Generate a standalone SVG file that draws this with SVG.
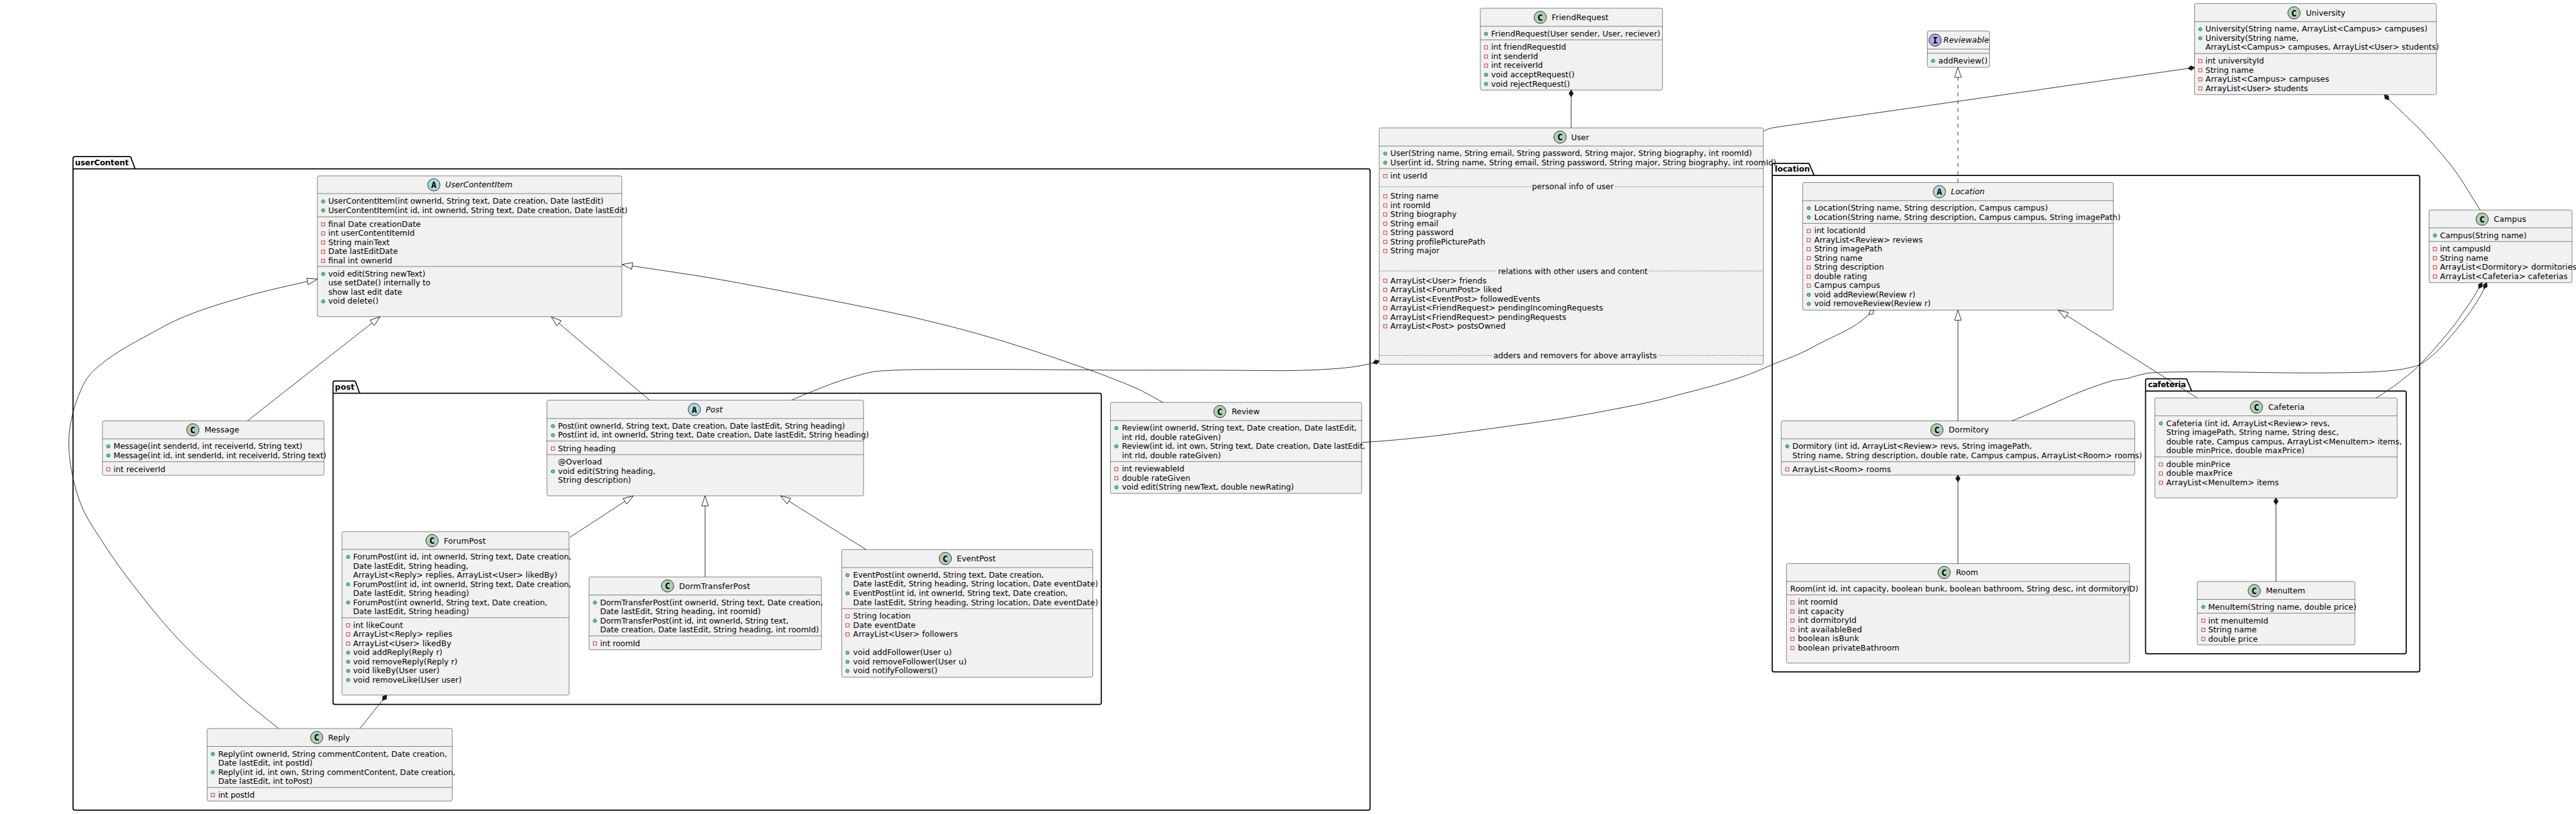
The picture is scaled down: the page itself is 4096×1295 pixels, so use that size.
<svg xmlns="http://www.w3.org/2000/svg" width="4096" height="1295" viewBox="0 0 4096 1295">
<style>
text{font-family:"DejaVu Sans",sans-serif;font-size:14px;fill:#000}
.it{font-style:italic}
.pk{font-weight:bold}
.sp{font-family:"DejaVu Sans Mono",monospace;font-weight:bold;font-size:16px;text-anchor:middle}
.b{fill:#F1F1F1;stroke:#181818;stroke-width:.6}
.l{stroke:#181818;stroke-width:.6;fill:none}
.d{stroke:#181818;stroke-width:1;stroke-dasharray:1 2;fill:none}
.pkg{fill:none;stroke:#000;stroke-width:2}
.cc{fill:#ADD1B2}.ca{fill:#A9DCDF}.ci{fill:#B4A7E5}
.cc,.ca,.ci{stroke:#181818;stroke-width:1}
#connectors path{fill:none;stroke:#181818;stroke-width:1}
.tri{marker-end:url(#tri)}
.dia{marker-start:url(#dia)}
.odia{marker-start:url(#odia)}
</style>
<defs>
<circle id="pu" r="3" fill="#84BE84" stroke="#038048"/>
<rect id="pr" x="-3" y="-3" width="6" height="6" fill="none" stroke="#C82930"/>
<marker id="tri" markerUnits="userSpaceOnUse" viewBox="-19 -7 20 14" refX="0" refY="0" markerWidth="20" markerHeight="14" orient="auto"><path d="M0,0L-18,-6L-18,6Z" fill="#fff" stroke="#181818"/></marker>
<marker id="dia" markerUnits="userSpaceOnUse" viewBox="-1 -6 15 12" refX="0" refY="0" markerWidth="15" markerHeight="12" orient="auto"><path d="M0,0L6,-4L12,0L6,4Z" fill="#181818" stroke="#181818"/></marker>
<marker id="odia" markerUnits="userSpaceOnUse" viewBox="-1 -6 15 12" refX="0" refY="0" markerWidth="15" markerHeight="12" orient="auto"><path d="M0,0L6,-4L12,0L6,4Z" fill="#fff" stroke="#181818"/></marker>
</defs>
<rect width="4096" height="1295" fill="#fff"/>
<g transform="scale(.89005)">
<g id="pkg-userContent"><path class="pkg" d="M130.5,283A3,3 0 0 1 133.5,280L231.3,280A3,3 0 0 1 234.3,283L241.4,301.8L2444.6,301.8A3,3 0 0 1 2447.6,304.8L2447.6,1445A3,3 0 0 1 2444.6,1448L133.5,1448A3,3 0 0 1 130.5,1445ZM130.5,301.8L241.4,301.8"/><text class="pk" x="134" y="295.5" textLength="96">userContent</text></g>
<g id="pkg-post"><path class="pkg" d="M595,684A3,3 0 0 1 598,681L632.6,681A3,3 0 0 1 635.6,684L642.6,703L1964.5,703A3,3 0 0 1 1967.5,706L1967.5,1256A3,3 0 0 1 1964.5,1259L598,1259A3,3 0 0 1 595,1256ZM595,703L642.6,703"/><text class="pk" x="598.4" y="696.5" textLength="35">post</text></g>
<g id="pkg-location"><path class="pkg" d="M3166,295A3,3 0 0 1 3169,292L3230,292A3,3 0 0 1 3233,295L3241,313.7L4319.8,313.7A3,3 0 0 1 4322.8,316.7L4322.8,1198A3,3 0 0 1 4319.8,1201L3169,1201A3,3 0 0 1 3166,1198ZM3166,313.7L3241,313.7"/><text class="pk" x="3170.5" y="306.7" textLength="63">location</text></g>
<g id="pkg-cafeteria"><path class="pkg" d="M3833,680A3,3 0 0 1 3836,677L3904.4,677A3,3 0 0 1 3907.4,680L3915.6,699L4295.7,699A3,3 0 0 1 4298.7,702L4298.7,1165.7A3,3 0 0 1 4295.7,1168.7L3836,1168.7A3,3 0 0 1 3833,1165.7ZM3833,699L3915.6,699"/><text class="pk" x="3837.3" y="691.7" textLength="68">cafeteria</text></g>

<g id="UserContentItem"><rect class="b" x="567" y="314.4" width="544" height="251.6" rx="3"/><path class="l" d="M567,346H1111M567,387.5H1111M567,476.3H1111"/><circle class="ca" cx="775" cy="330.4" r="11"/><text class="sp" x="775" y="336">A</text><text class="it" x="795.6" y="335" textLength="120">UserContentItem</text>
<use href="#pu" x="577.4" y="360"/><text x="586.5" y="364.2" textLength="491.7">UserContentItem(int ownerId, String text, Date creation, Date lastEdit)</text>
<use href="#pu" x="577.4" y="376"/><text x="586.5" y="380.5" textLength="534.6">UserContentItem(int id, int ownerId, String text, Date creation, Date lastEdit)</text>
<use href="#pr" x="577.4" y="401"/><text x="586.5" y="405.5" textLength="165">final Date creationDate</text>
<use href="#pr" x="577.4" y="417.3"/><text x="586.5" y="421.8" textLength="154.3">int userContentItemId</text>
<use href="#pr" x="577.4" y="433.6"/><text x="586.5" y="438.1" textLength="109.5">String mainText</text>
<use href="#pr" x="577.4" y="449.9"/><text x="586.5" y="454.4" textLength="124.2">Date lastEditDate</text>
<use href="#pr" x="577.4" y="466.2"/><text x="586.5" y="470.7" textLength="114.3">final int ownerId</text>
<use href="#pu" x="577.4" y="489.8"/><text x="586.5" y="494.3" textLength="173.3">void edit(String newText)</text>
<text x="586.5" y="510.6" textLength="182.4">use setDate() internally to</text>
<text x="586.5" y="526.9" textLength="131.9">show last edit date</text>
<use href="#pu" x="577.4" y="538.7"/><text x="586.5" y="543.2" textLength="89.8">void delete()</text></g>

<g id="Message"><rect class="b" x="183" y="752.3" width="395.8" height="97.2" rx="3"/><path class="l" d="M183,784.4H578.8M183,825.3H578.8"/><circle class="cc" cx="344.5" cy="768.3" r="11"/><text class="sp" x="344.5" y="774">C</text><text x="365.5" y="773.3" textLength="61.8">Message</text>
<use href="#pu" x="193.6" y="797.9"/><text x="202.8" y="802.4" textLength="337.4">Message(int senderId, int receiverId, String text)</text>
<use href="#pu" x="193.6" y="814.2"/><text x="202.8" y="818.7" textLength="380.2">Message(int id, int senderId, int receiverId, String text)</text>
<use href="#pr" x="193.6" y="838.8"/><text x="202.8" y="843.3" textLength="92.6">int receiverId</text></g>

<g id="Post"><rect class="b" x="977.2" y="715.2" width="565.5" height="171.1" rx="3"/><path class="l" d="M977.2,748.1H1542.7M977.2,788.3H1542.7M977.2,812.8H1542.7"/><circle class="ca" cx="1240.4" cy="732" r="11"/><text class="sp" x="1240.4" y="737.6">A</text><text class="it" x="1260.8" y="737" textLength="30">Post</text>
<use href="#pu" x="987.8" y="761.6"/><text x="996.9" y="766.1" textLength="512.7">Post(int ownerId, String text, Date creation, Date lastEdit, String heading)</text>
<use href="#pu" x="987.8" y="777.9"/><text x="996.9" y="782.4" textLength="555.4">Post(int id, int ownerId, String text, Date creation, Date lastEdit, String heading)</text>
<use href="#pr" x="987.8" y="801.8"/><text x="996.9" y="806.3" textLength="103">String heading</text>
<text x="996.9" y="830.8" textLength="78.6">@Overload</text>
<use href="#pu" x="987.8" y="842.6"/><text x="996.9" y="847.1" textLength="174">void edit(String heading,</text>
<text x="996.9" y="863.4" textLength="130.5">String description)</text></g>

<g id="ForumPost"><rect class="b" x="611" y="950.3" width="405.7" height="292.1" rx="3"/><path class="l" d="M611,982H1016.7M611,1104.2H1016.7"/><circle class="cc" cx="771.8" cy="966.3" r="11"/><text class="sp" x="771.8" y="972">C</text><text x="792.8" y="971.3" textLength="75">ForumPost</text>
<use href="#pu" x="622" y="995.5"/><text x="630.8" y="1000" textLength="389.7">ForumPost(int id, int ownerId, String text, Date creation,</text>
<text x="630.8" y="1016.3" textLength="206">Date lastEdit, String heading,</text>
<text x="630.8" y="1032.6" textLength="364.8">ArrayList&lt;Reply&gt; replies, ArrayList&lt;User&gt; likedBy)</text>
<use href="#pu" x="622" y="1044.4"/><text x="630.8" y="1048.9" textLength="389.7">ForumPost(int id, int ownerId, String text, Date creation,</text>
<text x="630.8" y="1065.2" textLength="207.3">Date lastEdit, String heading)</text>
<use href="#pu" x="622" y="1077"/><text x="630.8" y="1081.5" textLength="347">ForumPost(int ownerId, String text, Date creation,</text>
<text x="630.8" y="1097.8" textLength="207.3">Date lastEdit, String heading)</text>
<use href="#pr" x="622" y="1117.7"/><text x="630.8" y="1122.2" textLength="89.3">int likeCount</text>
<use href="#pr" x="622" y="1134"/><text x="630.8" y="1138.5" textLength="177.3">ArrayList&lt;Reply&gt; replies</text>
<use href="#pr" x="622" y="1150.3"/><text x="630.8" y="1154.8" textLength="175.4">ArrayList&lt;User&gt; likedBy</text>
<use href="#pu" x="622" y="1166.6"/><text x="630.8" y="1171.1" textLength="159.5">void addReply(Reply r)</text>
<use href="#pu" x="622" y="1182.9"/><text x="630.8" y="1187.4" textLength="186.3">void removeReply(Reply r)</text>
<use href="#pu" x="622" y="1199.2"/><text x="630.8" y="1203.7" textLength="154.4">void likeBy(User user)</text>
<use href="#pu" x="622" y="1215.5"/><text x="630.8" y="1220" textLength="194">void removeLike(User user)</text></g>

<g id="Reply"><rect class="b" x="370" y="1302.2" width="438" height="129.6" rx="3"/><path class="l" d="M370,1334.2H808M370,1407.5H808"/><circle class="cc" cx="565.8" cy="1318.2" r="11"/><text class="sp" x="565.8" y="1324">C</text><text x="586.2" y="1323.2" textLength="38.9">Reply</text>
<use href="#pu" x="380.2" y="1347.7"/><text x="389.8" y="1352.2" textLength="408.8">Reply(int ownerId, String commentContent, Date creation,</text>
<text x="389.8" y="1368.5" textLength="168.3">Date lastEdit, int postId)</text>
<use href="#pu" x="380.2" y="1380.3"/><text x="389.8" y="1384.8" textLength="424">Reply(int id, int own, String commentContent, Date creation,</text>
<text x="389.8" y="1401.1" textLength="168.3">Date lastEdit, int toPost)</text>
<use href="#pr" x="380.2" y="1421"/><text x="389.8" y="1425.5" textLength="65">int postId</text></g>

<g id="DormTransferPost"><rect class="b" x="1052.3" y="1031.3" width="415.2" height="130.1" rx="3"/><path class="l" d="M1052.3,1063.5H1467.5M1052.3,1136.6H1467.5"/><circle class="cc" cx="1192.6" cy="1047.3" r="11"/><text class="sp" x="1192.6" y="1053">C</text><text x="1213" y="1052.3" textLength="127">DormTransferPost</text>
<use href="#pu" x="1062.8" y="1077"/><text x="1072" y="1081.5" textLength="398">DormTransferPost(int ownerId, String text, Date creation,</text>
<text x="1072" y="1097.8" textLength="287">Date lastEdit, String heading, int roomId)</text>
<use href="#pu" x="1062.8" y="1109.6"/><text x="1072" y="1114.1" textLength="336.8">DormTransferPost(int id, int ownerId, String text,</text>
<text x="1072" y="1130.4" textLength="391">Date creation, Date lastEdit, String heading, int roomId)</text>
<use href="#pr" x="1062.8" y="1150.1"/><text x="1072" y="1154.6" textLength="71.5">int roomId</text></g>

<g id="EventPost"><rect class="b" x="1503.8" y="982.3" width="448.4" height="228.1" rx="3"/><path class="l" d="M1503.8,1014.5H1952.2M1503.8,1088H1952.2"/><circle class="cc" cx="1688.8" cy="998.3" r="11"/><text class="sp" x="1688.8" y="1004">C</text><text x="1709.2" y="1003.3" textLength="69.5">EventPost</text>
<use href="#pu" x="1514" y="1028"/><text x="1524.2" y="1032.5" textLength="340.6">EventPost(int ownerId, String text, Date creation,</text>
<text x="1524.2" y="1048.8" textLength="437.5">Date lastEdit, String heading, String location, Date eventDate)</text>
<use href="#pu" x="1514" y="1060.6"/><text x="1524.2" y="1065.1" textLength="383.3">EventPost(int id, int ownerId, String text, Date creation,</text>
<text x="1524.2" y="1081.4" textLength="437.5">Date lastEdit, String heading, String location, Date eventDate)</text>
<use href="#pr" x="1514" y="1101.5"/><text x="1524.2" y="1106" textLength="102.7">String location</text>
<use href="#pr" x="1514" y="1117.8"/><text x="1524.2" y="1122.3" textLength="111.6">Date eventDate</text>
<use href="#pr" x="1514" y="1134.1"/><text x="1524.2" y="1138.6" textLength="186.8">ArrayList&lt;User&gt; followers</text>
<use href="#pu" x="1514" y="1166.7"/><text x="1524.2" y="1171.2" textLength="176">void addFollower(User u)</text>
<use href="#pu" x="1514" y="1183"/><text x="1524.2" y="1187.5" textLength="202.8">void removeFollower(User u)</text>
<use href="#pu" x="1514" y="1199.3"/><text x="1524.2" y="1203.8" textLength="150.5">void notifyFollowers()</text></g>

<g id="Review"><rect class="b" x="1983.7" y="719.3" width="448.9" height="162.7" rx="3"/><path class="l" d="M1983.7,751.7H2432.6M1983.7,825H2432.6"/><circle class="cc" cx="2179.2" cy="735.7" r="11"/><text class="sp" x="2179.2" y="741.4">C</text><text x="2200.3" y="740.7" textLength="50.1">Review</text>
<use href="#pu" x="1994.4" y="765.2"/><text x="2004.3" y="769.7" textLength="419.5">Review(int ownerId, String text, Date creation, Date lastEdit,</text>
<text x="2004.3" y="786" textLength="176.9">int rId, double rateGiven)</text>
<use href="#pu" x="1994.4" y="797.8"/><text x="2004.3" y="802.3" textLength="434.8">Review(int id, int own, String text, Date creation, Date lastEdit,</text>
<text x="2004.3" y="818.6" textLength="176.9">int rId, double rateGiven)</text>
<use href="#pr" x="1994.4" y="838.5"/><text x="2004.3" y="843" textLength="111.4">int reviewableId</text>
<use href="#pr" x="1994.4" y="854.8"/><text x="2004.3" y="859.3" textLength="122.1">double rateGiven</text>
<use href="#pu" x="1994.4" y="871.1"/><text x="2004.3" y="875.6" textLength="307.3">void edit(String newText, double newRating)</text></g>

<g id="FriendRequest"><rect class="b" x="2644.6" y="14.7" width="325.4" height="146.3" rx="3"/><path class="l" d="M2644.6,47H2970M2644.6,71.3H2970"/><circle class="cc" cx="2751.7" cy="31" r="11"/><text class="sp" x="2751.7" y="36.7">C</text><text x="2772.1" y="36" textLength="101.6">FriendRequest</text>
<use href="#pu" x="2654.8" y="60.5"/><text x="2664" y="65" textLength="302">FriendRequest(User sender, User, reciever)</text>
<use href="#pr" x="2654.8" y="84.8"/><text x="2664" y="89.3" textLength="133.7">int friendRequestId</text>
<use href="#pr" x="2654.8" y="101.1"/><text x="2664" y="105.6" textLength="83.7">int senderId</text>
<use href="#pr" x="2654.8" y="117.4"/><text x="2664" y="121.9" textLength="92.3">int receiverId</text>
<use href="#pu" x="2654.8" y="133.7"/><text x="2664" y="138.2" textLength="149">void acceptRequest()</text>
<use href="#pu" x="2654.8" y="150"/><text x="2664" y="154.5" textLength="140.8">void rejectRequest()</text></g>

<g id="User"><rect class="b" x="2464" y="228.7" width="686.2" height="422.6" rx="3"/><path class="l" d="M2464,261H3150.2M2464,301.3H3150.2"/><path class="d" d="M2464,333.7H2735M2885,333.7H3150.2M2464,484.3H2674M2946,484.3H3150.2M2464,635.3H2666M2962,635.3H3150.2"/><circle class="cc" cx="2787" cy="245" r="11"/><text class="sp" x="2787" y="250.7">C</text><text x="2806.8" y="250" textLength="32.2">User</text>
<use href="#pu" x="2474.7" y="274.5"/><text x="2483.9" y="279" textLength="645.9">User(String name, String email, String password, String major, String biography, int roomId)</text>
<use href="#pu" x="2474.7" y="290.8"/><text x="2483.9" y="295.3" textLength="689.3">User(int id, String name, String email, String password, String major, String biography, int roomId)</text>
<use href="#pr" x="2474.7" y="314.8"/><text x="2483.9" y="319.3" textLength="65.8">int userId</text>
<text x="2737" y="338.7" textLength="145.9">personal info of user</text>
<use href="#pr" x="2474.7" y="350.9"/><text x="2483.9" y="355.4" textLength="86.2">String name</text>
<use href="#pr" x="2474.7" y="367.2"/><text x="2483.9" y="371.7" textLength="71.4">int roomId</text>
<use href="#pr" x="2474.7" y="383.5"/><text x="2483.9" y="388" textLength="118.3">String biography</text>
<use href="#pr" x="2474.7" y="399.8"/><text x="2483.9" y="404.3" textLength="85.7">String email</text>
<use href="#pr" x="2474.7" y="416.1"/><text x="2483.9" y="420.6" textLength="112.7">String password</text>
<use href="#pr" x="2474.7" y="432.4"/><text x="2483.9" y="436.9" textLength="169.4">String profilePicturePath</text>
<use href="#pr" x="2474.7" y="448.7"/><text x="2483.9" y="453.2" textLength="87.7">String major</text>
<text x="2676.2" y="489.3" textLength="267.4">relations with other users and content</text>
<use href="#pr" x="2474.7" y="501.8"/><text x="2483.9" y="506.3" textLength="171.9">ArrayList&lt;User&gt; friends</text>
<use href="#pr" x="2474.7" y="518.1"/><text x="2483.9" y="522.6" textLength="199.5">ArrayList&lt;ForumPost&gt; liked</text>
<use href="#pr" x="2474.7" y="534.4"/><text x="2483.9" y="538.9" textLength="267.3">ArrayList&lt;EventPost&gt; followedEvents</text>
<use href="#pr" x="2474.7" y="550.7"/><text x="2483.9" y="555.2" textLength="380">ArrayList&lt;FriendRequest&gt; pendingIncomingRequests</text>
<use href="#pr" x="2474.7" y="567"/><text x="2483.9" y="571.5" textLength="314.3">ArrayList&lt;FriendRequest&gt; pendingRequests</text>
<use href="#pr" x="2474.7" y="583.3"/><text x="2483.9" y="587.8" textLength="205.6">ArrayList&lt;Post&gt; postsOwned</text>
<text x="2668" y="640.3" textLength="291.9">adders and removers for above arraylists</text></g>

<g id="Reviewable"><rect class="b" x="3443.2" y="55.3" width="111.1" height="65" rx="3"/><path class="l" d="M3443.2,87.7H3554.3M3443.2,95.3H3554.3"/><circle class="ci" cx="3457.1" cy="71.7" r="11"/><text class="sp" x="3457.1" y="77.4">I</text><text class="it" x="3472" y="76.7" textLength="81.3">Reviewable</text>
<use href="#pu" x="3453.4" y="108.8"/><text x="3462.7" y="113.3" textLength="88">addReview()</text></g>

<g id="University"><rect class="b" x="3920.6" y="6.3" width="432" height="163" rx="3"/><path class="l" d="M3920.6,38.7H4352.6M3920.6,95.7H4352.6"/><circle class="cc" cx="4098.2" cy="23" r="11"/><text class="sp" x="4098.2" y="28.7">C</text><text x="4119.5" y="28" textLength="70.3">University</text>
<use href="#pu" x="3930.8" y="52.2"/><text x="3940" y="56.7" textLength="396.8">University(String name, ArrayList&lt;Campus&gt; campuses)</text>
<use href="#pu" x="3930.8" y="68.5"/><text x="3940" y="73" textLength="166.5">University(String name,</text>
<text x="3940" y="89.3" textLength="417.2">ArrayList&lt;Campus&gt; campuses, ArrayList&lt;User&gt; students)</text>
<use href="#pr" x="3930.8" y="109.2"/><text x="3940" y="113.7" textLength="104.5">int universityId</text>
<use href="#pr" x="3930.8" y="125.5"/><text x="3940" y="130" textLength="86">String name</text>
<use href="#pr" x="3930.8" y="141.8"/><text x="3940" y="146.3" textLength="221">ArrayList&lt;Campus&gt; campuses</text>
<use href="#pr" x="3930.8" y="158.1"/><text x="3940" y="162.6" textLength="183.2">ArrayList&lt;User&gt; students</text></g>

<g id="Location"><rect class="b" x="3220.5" y="326.3" width="554.9" height="228" rx="3"/><path class="l" d="M3220.5,358.7H3775.4M3220.5,399.3H3775.4"/><circle class="ca" cx="3464.7" cy="342.7" r="11"/><text class="sp" x="3464.7" y="348.4">A</text><text class="it" x="3485.3" y="347.7" textLength="60.2">Location</text>
<use href="#pu" x="3231.3" y="372.2"/><text x="3241" y="376.7" textLength="417.5">Location(String name, String description, Campus campus)</text>
<use href="#pu" x="3231.3" y="388.5"/><text x="3241" y="393" textLength="547.4">Location(String name, String description, Campus campus, String imagePath)</text>
<use href="#pr" x="3231.3" y="412.8"/><text x="3241" y="417.3" textLength="91.6">int locationId</text>
<use href="#pr" x="3231.3" y="429.1"/><text x="3241" y="433.6" textLength="193.8">ArrayList&lt;Review&gt; reviews</text>
<use href="#pr" x="3231.3" y="445.4"/><text x="3241" y="449.9" textLength="121.5">String imagePath</text>
<use href="#pr" x="3231.3" y="461.7"/><text x="3241" y="466.2" textLength="86.2">String name</text>
<use href="#pr" x="3231.3" y="478"/><text x="3241" y="482.5" textLength="124.6">String description</text>
<use href="#pr" x="3231.3" y="494.3"/><text x="3241" y="498.8" textLength="94.3">double rating</text>
<use href="#pr" x="3231.3" y="510.6"/><text x="3241" y="515.1" textLength="117.9">Campus campus</text>
<use href="#pu" x="3231.3" y="526.9"/><text x="3241" y="531.4" textLength="180.9">void addReview(Review r)</text>
<use href="#pu" x="3231.3" y="543.2"/><text x="3241" y="547.7" textLength="208.1">void removeReview(Review r)</text></g>

<g id="Dormitory"><rect class="b" x="3182.1" y="752.3" width="631.7" height="97" rx="3"/><path class="l" d="M3182.1,784.3H3813.8M3182.1,825.3H3813.8"/><circle class="cc" cx="3460.3" cy="768.3" r="11"/><text class="sp" x="3460.3" y="774">C</text><text x="3481.3" y="773.3" textLength="71.8">Dormitory</text>
<use href="#pu" x="3192.9" y="797.8"/><text x="3202.2" y="802.3" textLength="427.7">Dormitory (int id, ArrayList&lt;Review&gt; revs, String imagePath,</text>
<text x="3202.2" y="818.6" textLength="624.6">String name, String description, double rate, Campus campus, ArrayList&lt;Room&gt; rooms)</text>
<use href="#pr" x="3192.9" y="838.8"/><text x="3202.2" y="843.3" textLength="175.9">ArrayList&lt;Room&gt; rooms</text></g>

<g id="Room"><rect class="b" x="3191.5" y="1007.3" width="613" height="178" rx="3"/><path class="l" d="M3191.5,1039.3H3804.5M3191.5,1063.3H3804.5"/><circle class="cc" cx="3473.2" cy="1023.3" r="11"/><text class="sp" x="3473.2" y="1029">C</text><text x="3494.2" y="1028.3" textLength="39.7">Room</text>
<text x="3198.2" y="1057.3" textLength="621.9">Room(int id, int capacity, boolean bunk, boolean bathroom, String desc, int dormitoryID)</text>
<use href="#pr" x="3202.2" y="1076.8"/><text x="3212" y="1081.3" textLength="71">int roomId</text>
<use href="#pr" x="3202.2" y="1093.1"/><text x="3212" y="1097.6" textLength="82.2">int capacity</text>
<use href="#pr" x="3202.2" y="1109.4"/><text x="3212" y="1113.9" textLength="104.5">int dormitoryId</text>
<use href="#pr" x="3202.2" y="1125.7"/><text x="3212" y="1130.2" textLength="114.3">int availableBed</text>
<use href="#pr" x="3202.2" y="1142"/><text x="3212" y="1146.5" textLength="109">boolean isBunk</text>
<use href="#pr" x="3202.2" y="1158.3"/><text x="3212" y="1162.8" textLength="181.3">boolean privateBathroom</text></g>

<g id="Campus"><rect class="b" x="4339.6" y="375.3" width="255.3" height="130" rx="3"/><path class="l" d="M4339.6,407.3H4594.9M4339.6,431.7H4594.9"/><circle class="cc" cx="4434.3" cy="391.7" r="11"/><text class="sp" x="4434.3" y="397.4">C</text><text x="4455.2" y="396.7" textLength="57.8">Campus</text>
<use href="#pu" x="4349.9" y="420.8"/><text x="4359" y="425.3" textLength="155">Campus(String name)</text>
<use href="#pr" x="4349.9" y="445.2"/><text x="4359" y="449.7" textLength="90.6">int campusId</text>
<use href="#pr" x="4349.9" y="461.5"/><text x="4359" y="466" textLength="86.5">String name</text>
<use href="#pr" x="4349.9" y="477.8"/><text x="4359" y="482.3" textLength="244">ArrayList&lt;Dormitory&gt; dormitories</text>
<use href="#pr" x="4349.9" y="494.1"/><text x="4359" y="498.6" textLength="228.2">ArrayList&lt;Cafeteria&gt; cafeterias</text></g>

<g id="Cafeteria"><rect class="b" x="3849.6" y="711.3" width="432.8" height="178.7" rx="3"/><path class="l" d="M3849.6,743.3H4282.4M3849.6,816.7H4282.4"/><circle class="cc" cx="4031.2" cy="727.7" r="11"/><text class="sp" x="4031.2" y="733.4">C</text><text x="4052.2" y="732.7" textLength="65">Cafeteria</text>
<use href="#pu" x="3860.4" y="756.8"/><text x="3870" y="761.3" textLength="292">Cafeteria (int id, ArrayList&lt;Review&gt; revs,</text>
<text x="3870" y="777.6" textLength="308">String imagePath, String name, String desc,</text>
<text x="3870" y="793.9" textLength="421">double rate, Campus campus, ArrayList&lt;MenuItem&gt; items,</text>
<text x="3870" y="810.2" textLength="247">double minPrice, double maxPrice)</text>
<use href="#pr" x="3860.4" y="830.2"/><text x="3870" y="834.7" textLength="114.4">double minPrice</text>
<use href="#pr" x="3860.4" y="846.5"/><text x="3870" y="851" textLength="118.4">double maxPrice</text>
<use href="#pr" x="3860.4" y="862.8"/><text x="3870" y="867.3" textLength="201">ArrayList&lt;MenuItem&gt; items</text></g>

<g id="MenuItem"><rect class="b" x="3925.4" y="1039.3" width="281.7" height="113.4" rx="3"/><path class="l" d="M3925.4,1071.3H4207.1M3925.4,1096H4207.1"/><circle class="cc" cx="4027.2" cy="1055.7" r="11"/><text class="sp" x="4027.2" y="1061.4">C</text><text x="4048.2" y="1060.7" textLength="70">MenuItem</text>
<use href="#pu" x="3936.2" y="1084.8"/><text x="3945" y="1089.3" textLength="264.8">MenuItem(String name, double price)</text>
<use href="#pr" x="3936.2" y="1109.5"/><text x="3945" y="1114" textLength="107.2">int menuItemId</text>
<use href="#pr" x="3936.2" y="1125.8"/><text x="3945" y="1130.3" textLength="86.3">String name</text>
<use href="#pr" x="3936.2" y="1142.1"/><text x="3945" y="1146.6" textLength="88.5">double price</text></g>

<g id="connectors">
<path class="tri" d="M442,752.3L679,566"/>
<path class="tri" d="M1160.3,715.2L985,566.3"/>
<path class="tri" d="M2077.7,719.3C2061,710.5 2045,700.5 2028.6,693.3C2002,682 1975,671.5 1948,661.7C1903,646 1859,630.5 1814,616.7C1755,598 1695,582 1635.7,568.3C1576,554.5 1516,543 1457,531.7C1397,520 1338,509 1278.6,498.3C1223,489 1167,481 1111.6,472.7"/>
<path class="tri" d="M497.6,1302.2C473,1282 450,1265 426,1243.5C393,1213 361,1186 330.5,1154.8C300,1124 274,1092 247.5,1058C222,1026 202,998 183.8,969.6C168,945 154,925 145.5,904C138,885 133,868 129.6,850C124,825 122,800 123.5,777.5C126,745 136,715 148,689.5C158,668 172,658 190,643.6C222,620 258,603 295,582C340,558 400,541 442.7,528.8C480,518 520,510 566.9,499"/>
<path class="tri" d="M1017.9,960.5L1131.4,886.3"/>
<path class="tri" d="M1259.6,1031.3V886.3"/>
<path class="tri" d="M1547.2,982.3L1394.1,886.3"/>
<path class="dia" d="M690.8,1242.4L643,1302.2"/>
<path class="dia" d="M2464,645.3C2440,653 2420,656 2394.6,658.3C2350,662 2305,663 2260.7,662.3C2170,661.5 2080,661.5 1992.9,661.7C1900,661 1810,660 1725,660.3C1680,660.5 1630,660 1600,661.7C1580,662.5 1562,663 1546.4,667.3C1525,673 1505,679 1484,686.7C1460,696 1437,705 1414.3,715.2"/>
<path class="dia" d="M2806.8,161V228.7"/>
<path class="dia" d="M3920.6,120.7L3167,228.3Q3158,230 3150.5,234.3"/>
<path class="tri" stroke-dasharray="7 7" d="M3497.8,326.3V120.3"/>
<path class="dia" d="M4260,169.3L4264.7,175C4285,195 4305,213 4324.8,233C4345,255 4365,278 4382,300C4394,316 4405,333 4414.8,350L4430.7,375.3"/>
<path class="dia" d="M4434.3,505.3L4428,515.7C4415,540 4402,555 4388,576.7C4376,592 4365,605 4352.4,620C4342,632 4333,641 4322.8,651.7C4310,666 4297,674 4286,683.3C4272,694 4258,703 4245,711.3"/>
<path class="dia" d="M4442.4,505.3L4434.3,523.3C4427,538 4418,550 4408.7,563.3C4395,582 4381,598 4367.8,613.3C4353,630 4338,643 4322.8,651.7C4312,656 4302,658 4291,660C4272,663 4253,664 4234.8,665C4175,667 4115,667 4055.8,666C3995,665 3935,664 3876.7,665C3862,665 3850,666 3838.4,666.7C3825,669 3812,673 3800,676.7C3790,678 3783,679 3775,680C3745,689 3715,700 3685.7,713.3C3655,727 3625,740 3594.2,752.3"/>
<path class="tri" d="M3497.8,752.3V554.3"/>
<path class="tri" d="M3925.3,711.3L3676.8,554.3"/>
<path class="dia" d="M3497.8,849.3V1007.3"/>
<path class="dia" d="M4066,890V1039.3"/>
<path class="odia" d="M3347.8,554.3L3339,562C3310,590 3275,600 3239.3,620C3215,634 3190,642 3166,651.7C3110,678 3060,690 3001,705C2950,720 2900,728 2848,738.3C2795,748 2745,755 2695,761.7C2650,768 2605,774 2562.4,779.3C2520,784 2480,788 2432.6,790.7"/>
</g>
</g>
</svg>
